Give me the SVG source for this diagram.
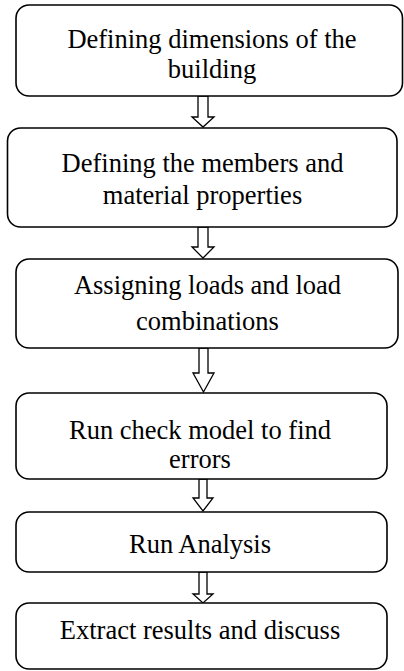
<svg xmlns="http://www.w3.org/2000/svg" width="404" height="671" viewBox="0 0 404 671">
<style>
.box{fill:#fff;stroke:#000;stroke-width:1.6}
.t{font-family:"Liberation Serif","Times New Roman",serif;font-size:26.5px;fill:#000;text-anchor:middle}
.arr{fill:#fff;stroke:#000;stroke-width:1.3;stroke-linejoin:miter}
</style>
<rect width="404" height="671" fill="#fff"/>
<g id="connectors">
<path class="arr" d="M198,96 H208 V117 H214 L203,127 L192,117 H198 Z"/>
<path class="arr" d="M198,227 H208 V247 H214 L203,258 L192,247 H198 Z"/>
<path class="arr" d="M199,348 H208 V373 H214 L203.5,392 L193,373 H199 Z"/>
<path class="arr" d="M199,479 H207 V498 H213 L203,511 L193,498 H199 Z"/>
<path class="arr" d="M199,572 H207 V594 H213 L203,603 L193,594 H199 Z"/>
</g>
<g id="n1">
<rect class="box" x="16" y="5" width="386.5" height="91" rx="13"/>
<text class="t" x="212" y="48">Defining dimensions of the</text>
<text class="t" x="212" y="78">building</text>
</g>
<g id="n2">
<rect class="box" x="7.5" y="128" width="389.5" height="99" rx="13"/>
<text class="t" x="202.5" y="172">Defining the members and</text>
<text class="t" x="202.5" y="204">material properties</text>
</g>
<g id="n3">
<rect class="box" x="16" y="259" width="382" height="89" rx="13"/>
<text class="t" x="207.5" y="294">Assigning loads and load</text>
<text class="t" x="207.5" y="330">combinations</text>
</g>
<g id="n4">
<rect class="box" x="16" y="393" width="371" height="86" rx="13"/>
<text class="t" x="200" y="439">Run check model to find</text>
<text class="t" x="200" y="468">errors</text>
</g>
<g id="n5">
<rect class="box" x="16" y="512" width="371" height="60" rx="13"/>
<text class="t" x="200" y="553">Run Analysis</text>
</g>
<g id="n6">
<rect class="box" x="16" y="603" width="371" height="66" rx="13"/>
<text class="t" x="200" y="639">Extract results and discuss</text>
</g>
</svg>
